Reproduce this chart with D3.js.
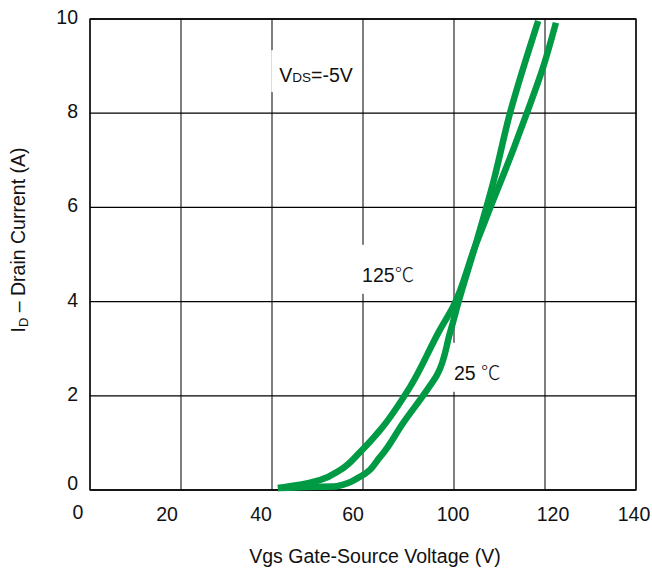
<!DOCTYPE html>
<html>
<head>
  <script src="https://d3js.org/d3.v7.min.js"></script>
  <style>
    body { margin: 0; background: #fff; }
    text { font-family: "Liberation Sans", Arial, "Noto Sans CJK SC", sans-serif; fill: #111; }
  </style>
</head>
<body>
  <svg id="chart" width="652" height="569"></svg>
  <script>
    // tick labels (the original sheet skips 80 on the x axis)
    const xTicks = [0, 20, 40, 60, 100, 120, 140];
    const yTicks = [0, 2, 4, 6, 8, 10];

    // 25 C curve
    const vgs25 = [41.3, 46.2, 54.3, 59.3, 67.5, 77.6, 88.1, 92.5, 98.2, 101.3, 104.6, 108.6, 112.3, 118.5];
    const id25  = [0.04, 0.06, 0.08, 0.28, 0.70, 1.42, 2.12, 2.44, 3.33, 4.10, 5.16, 6.52, 8.00, 9.96];

    // 125 C curve
    const vgs125 = [41.3, 46.2, 50.5, 54.9, 59.3, 67.5, 80.7, 93.8, 99.6, 104.6, 107.5, 113.0, 116.0, 119.6, 122.4];
    const id125  = [0.04, 0.11, 0.21, 0.42, 0.80, 1.27, 2.19, 3.40, 3.89, 5.16, 5.88, 7.22, 8.00, 8.98, 9.92];

    const svg = d3.select("#chart");
    const plotL = 90, plotR = 636, plotT = 19, plotB = 490;
    const fs = 19.5;

    // piecewise scale so every labelled gridline is evenly spaced
    const x = d3.scaleLinear()
      .domain(xTicks)
      .range(xTicks.map((d, i) => plotL + i * (plotR - plotL) / (xTicks.length - 1)));
    const y = d3.scaleLinear().domain([0, 10]).range([plotB, plotT]);

    // grid
    svg.append("g")
      .selectAll("line")
      .data(xTicks)
      .join("line")
      .attr("x1", d => x(d)).attr("x2", d => x(d))
      .attr("y1", plotT).attr("y2", plotB)
      .attr("stroke", "#3a3a3a")
      .attr("stroke-width", 1.3);

    svg.append("g")
      .selectAll("line")
      .data(yTicks)
      .join("line")
      .attr("x1", plotL).attr("x2", plotR)
      .attr("y1", d => y(d)).attr("y2", d => y(d))
      .attr("stroke", "#000")
      .attr("stroke-width", 1.3);

    // tick labels, nudged the way the sheet has them
    const xShift = { 0: -12, 20: -14, 40: -11, 60: -10, 100: -1, 120: 8, 140: -2 };
    svg.append("g")
      .selectAll("text")
      .data(xTicks)
      .join("text")
      .attr("x", d => x(d) + xShift[d])
      .attr("y", d => d === 0 ? 519 : 521)
      .attr("text-anchor", "middle")
      .attr("font-size", fs)
      .text(d => d);

    svg.append("g")
      .selectAll("text")
      .data(yTicks)
      .join("text")
      .attr("x", 78)
      .attr("y", d => y(d) + (d === 0 ? 0 : 5))
      .attr("text-anchor", "end")
      .attr("font-size", fs)
      .text(d => d);

    // axis titles
    svg.append("text")
      .attr("x", 375).attr("y", 563)
      .attr("text-anchor", "middle")
      .attr("font-size", fs)
      .text("Vgs Gate-Source Voltage (V)");

    const yt = svg.append("text")
      .attr("transform", "translate(25,240) rotate(-90)")
      .attr("text-anchor", "middle")
      .attr("font-size", fs);
    yt.append("tspan").text("I");
    yt.append("tspan").attr("font-size", 13).attr("dy", 3).text("D");
    yt.append("tspan").attr("dy", -3).text(" \u2013 Drain Current (A)");

    // annotations with white boxes that break the grid
    function note(vx, vy, build) {
      const g = svg.append("g");
      const rect = g.append("rect").attr("fill", "#fff");
      const t = g.append("text")
        .attr("x", x(vx)).attr("y", y(vy))
        .attr("font-size", fs);
      build(t);
      const b = t.node().getBBox();
      rect.attr("x", b.x - 8).attr("y", b.y - 14)
        .attr("width", b.width + 16).attr("height", b.height + 20);
    }

    note(41.6, 8.66, t => {
      t.append("tspan").text("V");
      t.append("tspan").attr("font-size", 13.5).text("DS");
      t.append("tspan").text("=-5V");
    });
    note(59.8, 4.42, t => {
      t.append("tspan").text("125");
      t.append("tspan").attr("font-family", "Noto Sans CJK SC").attr("font-weight", 300).text("\u2103");
    });
    note(100.0, 2.34, t => {
      t.append("tspan").text("25  ");
      t.append("tspan").attr("font-family", "Noto Sans CJK SC").attr("font-weight", 300).text("\u2103");
    });

    // frame
    svg.append("rect")
      .attr("x", plotL).attr("y", plotT)
      .attr("width", plotR - plotL).attr("height", plotB - plotT)
      .attr("fill", "none")
      .attr("stroke", "#000")
      .attr("stroke-width", 1.3);

    // curves
    const line = d3.line()
      .x(d => x(d[0]))
      .y(d => y(d[1]))
      .curve(d3.curveMonotoneY);

    const curves = [d3.zip(vgs25, id25), d3.zip(vgs125, id125)];
    svg.append("g")
      .selectAll("path")
      .data(curves)
      .join("path")
      .attr("d", d => line(d))
      .attr("fill", "none")
      .attr("stroke", "#009a44")
      .attr("stroke-width", 6.5)
      .attr("stroke-linejoin", "round");
  </script>
</body>
</html>
